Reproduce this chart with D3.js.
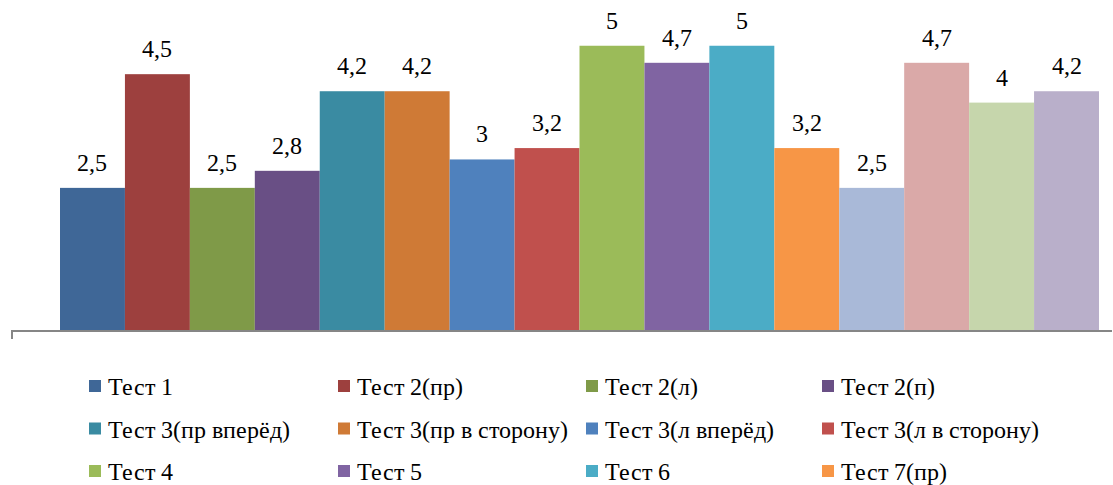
<!DOCTYPE html>
<html>
<head>
<meta charset="utf-8">
<script src="https://cdn.jsdelivr.net/npm/d3@7"></script>
<style>
  @font-face {
    font-family: "ChartSerif";
    src: local("Liberation Serif"), local("LiberationSerif"), local("Tinos"), local("Tinos Regular"), local("FreeSerif");
  }
  html, body { margin: 0; padding: 0; background: #fff; }
  #chart text { font-family: "ChartSerif", "Liberation Serif", "Tinos", "FreeSerif", serif; }
</style>
</head>
<body>
<svg id="chart" width="1113" height="485"></svg>
<script>
// Series names (one bar per series)
const seriesNames = [
  "Тест 1", "Тест 2(пр)", "Тест 2(л)", "Тест 2(п)",
  "Тест 3(пр вперёд)", "Тест 3(пр в сторону)", "Тест 3(л вперёд)", "Тест 3(л в сторону)",
  "Тест 4", "Тест 5", "Тест 6", "Тест 7(пр)",
  "Тест 7(л)", "Тест 8(пр)", "Тест 8(л)", "Тест 9"
];
// Values of each series
const seriesValues = [2.5, 4.5, 2.5, 2.8, 4.2, 4.2, 3, 3.2, 5, 4.7, 5, 3.2, 2.5, 4.7, 4, 4.2];
// Fill colours of each series
const seriesColors = [
  "#3F6797", "#9D403E", "#7F9A48", "#694F85", "#3A8BA2", "#CF7A36",
  "#4F81BD", "#C0504D", "#9BBB59", "#8064A2", "#4BACC6", "#F79646",
  "#A9B9D8", "#DAA9A8", "#C6D6AC", "#B9AFCA"
];

const svg = d3.select("#chart");
const baseY = 330;

const x = d3.scaleBand()
  .domain(seriesNames)
  .range([60, 1099])
  .paddingInner(0)
  .paddingOuter(0);

const y = d3.scaleLinear()
  .domain([0, 5.8])
  .range([baseY, baseY - 5.8 * 56.85]);

// Bars
svg.append("g")
  .selectAll("rect")
  .data(seriesNames)
  .join("rect")
  .attr("x", d => x(d))
  .attr("width", x.bandwidth())
  .attr("y", (d, i) => y(seriesValues[i]))
  .attr("height", (d, i) => y(0) - y(seriesValues[i]))
  .attr("fill", (d, i) => seriesColors[i]);

// Value labels
const fmt = v => String(v).replace(".", ",");
svg.selectAll("text.value")
  .data(seriesNames)
  .join("text")
  .attr("class", "value")
  .attr("x", d => x(d) + x.bandwidth() / 2)
  .attr("y", (d, i) => y(seriesValues[i]) - 17)
  .attr("text-anchor", "middle")
  .attr("font-size", 24)
  .text((d, i) => fmt(seriesValues[i]));

// Category axis
const axisG = svg.append("g").attr("transform", `translate(0,${baseY + 1})`);
axisG.append("line")
  .attr("x1", 11).attr("x2", 1112)
  .attr("y1", 0).attr("y2", 0)
  .attr("stroke", "#868686").attr("stroke-width", 2);
axisG.append("line")
  .attr("x1", 12).attr("x2", 12)
  .attr("y1", 0).attr("y2", 8)
  .attr("stroke", "#868686").attr("stroke-width", 2);

// Legend: four columns, rows top to bottom
const legendCols = [89, 338, 586, 822];
const legendTop = 395;
const rowStep = 42.5;
const legendPos = (i) => [legendCols[i % 4], legendTop + Math.floor(i / 4) * rowStep];

svg.selectAll("rect.swatch")
  .data(seriesNames)
  .join("rect")
  .attr("class", "swatch")
  .attr("x", (d, i) => legendPos(i)[0])
  .attr("y", (d, i) => legendPos(i)[1] - 15)
  .attr("width", 12).attr("height", 12)
  .attr("fill", (d, i) => seriesColors[i]);

svg.selectAll("text.legend")
  .data(seriesNames)
  .join("text")
  .attr("class", "legend")
  .attr("x", (d, i) => legendPos(i)[0] + 19)
  .attr("y", (d, i) => legendPos(i)[1])
  .attr("font-size", 24)
  .text(d => d);
</script>
</body>
</html>
